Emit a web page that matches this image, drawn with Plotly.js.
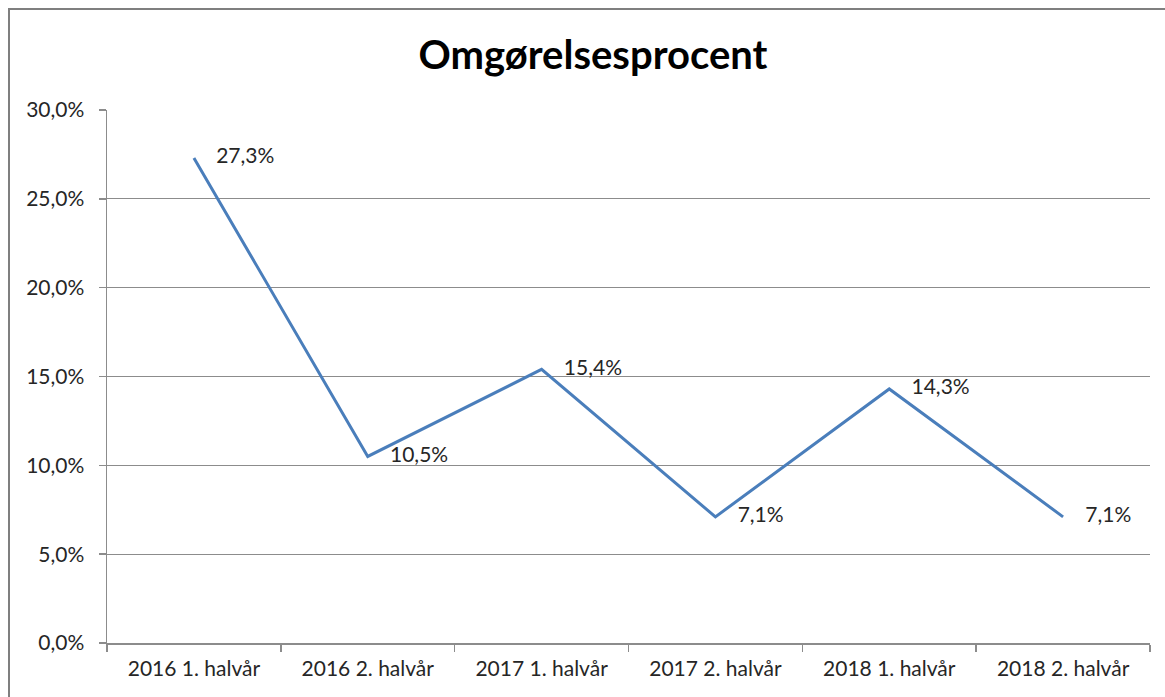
<!DOCTYPE html>
<html>
<head>
<meta charset="utf-8">
<script src="https://cdn.plot.ly/plotly-3.0.1.min.js"></script>
<style>
html,body{margin:0;padding:0;background:#fff;}
#chart{width:1165px;height:697px;}
</style>
</head>
<body>
<div id="chart"></div>
<script>
const categories = ["2016 1. halvår","2016 2. halvår","2017 1. halvår","2017 2. halvår","2018 1. halvår","2018 2. halvår"];
const values = [0.273, 0.105, 0.154, 0.071, 0.143, 0.071];
const yTicks = [0, 0.05, 0.10, 0.15, 0.20, 0.25, 0.30];
const chartTitle = "Omgørelsesprocent";

const W = 1165, H = 697;
const L = 107, R = 15, T = 110, B = 54;
const pw = W - L - R, ph = H - T - B;
const FONT = 'Lato, "Open Sans", sans-serif';

const trace = {
  x: categories,
  y: values,
  type: 'scatter',
  mode: 'lines+markers+text',
  line: {color: '#4a7ebb', width: 3},
  marker: {size: 34, opacity: 0, color: '#4a7ebb'},
  texttemplate: '%{y:.1%}',
  textposition: 'middle right',
  textfont: {family: FONT, size: 21, color: '#262626'},
  cliponaxis: false,
  hoverinfo: 'skip'
};

const layout = {
  width: W, height: H,
  separators: ',.',
  margin: {l: L, r: R, t: T, b: B, pad: 0},
  paper_bgcolor: '#ffffff',
  plot_bgcolor: '#ffffff',
  showlegend: false,
  font: {family: FONT, color: '#333333'},
  title: {
    text: chartTitle,
    font: {family: FONT, size: 40, color: '#000000', weight: 'bold'},
    x: 0.509, xanchor: 'center',
    y: 1 - 55 / H, yanchor: 'middle'
  },
  xaxis: {
    type: 'category',
    range: [-0.5, categories.length - 0.5],
    showgrid: false,
    zeroline: false,
    showline: true,
    linecolor: '#8c8c8c',
    linewidth: 1.5,
    ticks: 'outside',
    tickson: 'boundaries',
    ticklen: 7,
    tickcolor: '#8c8c8c',
    tickwidth: 1.5,
    ticklabelstandoff: 6,
    tickfont: {family: FONT, size: 21, color: '#262626'},
    fixedrange: true
  },
  yaxis: {
    range: [0, 0.30],
    tickvals: yTicks,
    tickformat: '.1%',
    showgrid: true,
    gridcolor: '#8c8c8c',
    gridwidth: 1.2,
    zeroline: false,
    showline: true,
    linecolor: '#8c8c8c',
    linewidth: 1.5,
    ticks: 'outside',
    ticklen: 7,
    tickcolor: '#8c8c8c',
    tickwidth: 1.5,
    ticklabelstandoff: 10,
    tickfont: {family: FONT, size: 21, color: '#262626'},
    fixedrange: true
  },
  shapes: [{
    type: 'rect',
    xref: 'paper', yref: 'paper',
    x0: (9 - L) / pw, x1: (W + 20 - L) / pw,
    y0: -(B + 20) / ph, y1: (H - 9 - B) / ph,
    line: {color: '#7f7f7f', width: 2},
    fillcolor: 'rgba(0,0,0,0)',
    layer: 'below'
  }]
};

Plotly.newPlot('chart', [trace], layout, {displayModeBar: false, staticPlot: true});
</script>
</body>
</html>
